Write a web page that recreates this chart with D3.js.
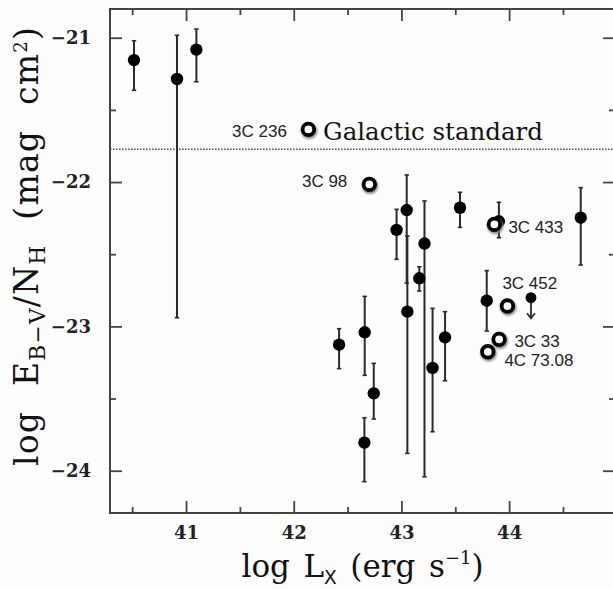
<!DOCTYPE html>
<html><head><meta charset="utf-8">
<script src="https://cdn.jsdelivr.net/npm/d3@7"></script>
<style>
html,body{margin:0;padding:0;background:#fff;}
svg{display:block;}
</style></head>
<body>
<svg id="chart" width="613" height="589"></svg>
<script>
// ---------------- data ----------------
// filled points with vertical error bars (log Lx, log E/NH, upper end, lower end)
const ptX  = [40.517, 40.916, 41.096, 42.955, 43.049, 43.055, 43.214, 43.166, 43.289, 43.405, 43.544, 42.421, 42.659, 42.743, 42.656, 43.905, 44.665, 43.792];
const ptY  = [-21.155,-21.286,-21.083,-22.332,-22.194,-22.898,-22.426,-22.667,-23.288,-23.076,-22.178,-23.127,-23.041,-23.464,-23.806,-22.272,-22.247,-22.822];
const ptHi = [-21.021,-20.983,-20.940,-22.189,-21.951,-22.374,-22.131,-22.587,-22.875,-22.898,-22.071,-23.016,-22.792,-23.256,-23.633,-22.140,-22.039,-22.614];
const ptLo = [-21.364,-22.940,-21.305,-22.535,-22.700,-23.880,-24.042,-22.755,-23.730,-23.377,-22.314,-23.293,-23.339,-23.642,-24.076,-22.386,-22.575,-23.032];

// named sources (open circles)
const srcNames = ["3C 236", "3C 98", "3C 433", "3C 452", "3C 33", "4C 73.08"];
const srcX = [42.136, 42.702, 43.863, 43.984, 43.907, 43.802];
const srcY = [-21.635, -22.016, -22.293, -22.859, -23.090, -23.176];

// upper limit
const limX = [44.203];
const limY = [-22.801];
const limTip = [-22.944];

// Galactic standard
const galacticValue = -21.773;
const galacticLabel = "Galactic standard";

// axes
const xMajor = [41, 42, 43, 44];
const xMinor = [40.5, 41.5, 42.5, 43.5, 44.5];
const yMajor = [-21, -22, -23, -24];
const yMinor = [-21.5, -22.5, -23.5];
const xDomain = [40.294, 44.983];
const yDomain = [-20.801, -24.293];

// ---------------- drawing ----------------
const svg = d3.select("#chart");
const L = 110, R = 615, T = 9, B = 513;
const x = d3.scaleLinear().domain(xDomain).range([L, R]);
const y = d3.scaleLinear().domain(yDomain).range([T, B]);
const ink = "#2a2a2a";
const axisInk = "#444";

svg.append("rect").attr("width",613).attr("height",589).attr("fill","#fdfdfd");

const defs = svg.append("defs");
const f = defs.append("filter").attr("id","sh").attr("x","-50%").attr("y","-50%").attr("width","200%").attr("height","200%");
f.append("feGaussianBlur").attr("stdDeviation",1.2);

function styleAxis(g){
  g.select(".domain").remove();
  g.selectAll(".tick line").attr("stroke", axisInk).attr("stroke-width", 1.8);
  g.attr("font-size", null).attr("font-family", null);
  g.selectAll("text").attr("fill","#222").style("font-family","'DejaVu Serif'").style("font-weight","bold").style("font-size","18px");
}
const fmt = d => d < 0 ? "\u2212" + Math.abs(d) : String(d);
svg.append("g").attr("transform",`translate(0,${B})`)
  .call(d3.axisBottom(x).tickValues(xMajor).tickSize(-12).tickSizeOuter(0).tickPadding(13).tickFormat(fmt)).call(styleAxis);
svg.append("g").attr("transform",`translate(0,${B})`)
  .call(d3.axisBottom(x).tickValues(xMinor).tickSize(-6).tickSizeOuter(0).tickFormat("")).call(styleAxis);
svg.append("g").attr("transform",`translate(0,${T})`)
  .call(d3.axisTop(x).tickValues(xMajor).tickSize(-12).tickSizeOuter(0).tickFormat("")).call(styleAxis);
svg.append("g").attr("transform",`translate(0,${T})`)
  .call(d3.axisTop(x).tickValues(xMinor).tickSize(-6).tickSizeOuter(0).tickFormat("")).call(styleAxis);
svg.append("g").attr("transform",`translate(${L},0)`)
  .call(d3.axisLeft(y).tickValues(yMajor).tickSize(-12).tickSizeOuter(0).tickPadding(19).tickFormat(fmt)).call(styleAxis);
svg.append("g").attr("transform",`translate(${L},0)`)
  .call(d3.axisLeft(y).tickValues(yMinor).tickSize(-6).tickSizeOuter(0).tickFormat("")).call(styleAxis);
svg.append("g").attr("transform",`translate(${R},0)`)
  .call(d3.axisRight(y).tickValues(yMajor).tickSize(-12).tickSizeOuter(0).tickFormat("")).call(styleAxis);
svg.append("g").attr("transform",`translate(${R},0)`)
  .call(d3.axisRight(y).tickValues(yMinor).tickSize(-6).tickSizeOuter(0).tickFormat("")).call(styleAxis);

svg.append("rect").attr("x",L).attr("y",T).attr("width",R-L).attr("height",B-T)
  .attr("fill","none").attr("stroke",axisInk).attr("stroke-width",2);

svg.append("line").attr("x1",L).attr("x2",R).attr("y1",y(galacticValue)).attr("y2",y(galacticValue))
  .attr("stroke","#555").attr("stroke-width",1.6).attr("stroke-dasharray","1.6,1.4");

const idx = d3.range(ptX.length);
const eb = svg.append("g");
eb.selectAll("line.bar").data(idx).join("line").attr("class","bar")
  .attr("x1",i=>x(ptX[i])).attr("x2",i=>x(ptX[i]))
  .attr("y1",i=>y(ptHi[i])).attr("y2",i=>y(ptLo[i]))
  .attr("stroke",ink).attr("stroke-width",2);
eb.selectAll("line.capH").data(idx).join("line").attr("class","capH")
  .attr("x1",i=>x(ptX[i])-2.2).attr("x2",i=>x(ptX[i])+2.2)
  .attr("y1",i=>y(ptHi[i])).attr("y2",i=>y(ptHi[i]))
  .attr("stroke",ink).attr("stroke-width",1.6);
eb.selectAll("line.capL").data(idx).join("line").attr("class","capL")
  .attr("x1",i=>x(ptX[i])-2.2).attr("x2",i=>x(ptX[i])+2.2)
  .attr("y1",i=>y(ptLo[i])).attr("y2",i=>y(ptLo[i]))
  .attr("stroke",ink).attr("stroke-width",1.6);
svg.append("g").selectAll("circle").data(idx).join("circle")
  .attr("cx",i=>x(ptX[i])).attr("cy",i=>y(ptY[i])).attr("r",6.2).attr("fill","#000");

const lim = svg.append("g");
limX.forEach((lx,i)=>{
  const cx = x(lx), cy = y(limY[i]), ty = y(limTip[i]);
  lim.append("line").attr("x1",cx).attr("x2",cx).attr("y1",cy).attr("y2",ty)
    .attr("stroke",ink).attr("stroke-width",1.8);
  lim.append("path").attr("d",`M${cx-4},${ty-5}L${cx},${ty}L${cx+4},${ty-5}`)
    .attr("fill","none").attr("stroke",ink).attr("stroke-width",1.8);
  lim.append("circle").attr("cx",cx).attr("cy",cy).attr("r",5.4).attr("fill","#000");
});

const sidx = d3.range(srcX.length);
const oc = svg.append("g");
oc.selectAll("circle.sh").data(sidx).join("circle").attr("class","sh")
  .attr("cx",i=>x(srcX[i])+0.8).attr("cy",i=>y(srcY[i])+1.6).attr("r",6)
  .attr("fill","none").attr("stroke","#888").attr("stroke-width",4.2).attr("filter","url(#sh)");
oc.selectAll("circle.o").data(sidx).join("circle").attr("class","o")
  .attr("cx",i=>x(srcX[i])).attr("cy",i=>y(srcY[i])).attr("r",5.8)
  .attr("fill","#fff").attr("stroke","#000").attr("stroke-width",3.8);

const labelLayout = {
  "3C 236":  {dx:-21.5, dy:7.7,  anchor:"end"},
  "3C 98":   {dx:-22,   dy:3,    anchor:"end"},
  "3C 433":  {dx:14,    dy:8.4,  anchor:"start"},
  "3C 452":  {dx:-5,    dy:-16.7,anchor:"start"},
  "3C 33":   {dx:15.3,  dy:7.4,  anchor:"start"},
  "4C 73.08":{dx:16.6,  dy:14,   anchor:"start"}
};
svg.append("g").selectAll("text").data(sidx).join("text")
  .attr("x",i=>x(srcX[i])+labelLayout[srcNames[i]].dx)
  .attr("y",i=>y(srcY[i])+labelLayout[srcNames[i]].dy)
  .attr("text-anchor",i=>labelLayout[srcNames[i]].anchor)
  .attr("font-family","Liberation Sans, Arial, sans-serif").attr("font-size",17).attr("fill","#222")
  .text(i=>srcNames[i]);

function fitText(sel, target){
  const n = sel.node();
  const fs = +sel.attr("font-size");
  const len = n.getComputedTextLength();
  sel.attr("font-size", fs*target/len);
}
function spaceText(sel, target, nchars, ls, nspaces){
  const len = sel.node().getComputedTextLength();
  if (len + ls*nchars > target) { fitText(sel, target); return; }
  sel.attr("letter-spacing", ls);
  sel.attr("word-spacing", (target-len-ls*nchars)/nspaces);
}
const gl = svg.append("text").attr("x", x(srcX[0]) + 14.7).attr("y", y(galacticValue) - 9.3)
  .attr("font-family","DejaVu Serif").attr("font-size",20).attr("fill","#111").text(galacticLabel);
fitText(gl, 220);

const xt = svg.append("text").attr("x",362.5).attr("y",577).attr("text-anchor","middle")
  .attr("font-family","DejaVu Serif").attr("font-size",31).attr("fill","#111");
xt.append("tspan").text("log L");
xt.append("tspan").attr("font-size","0.6em").attr("baseline-shift","-0.35em").attr("font-family","DejaVu Sans").text("X");
xt.append("tspan").text(" (erg s");
xt.append("tspan").attr("font-size","0.58em").attr("baseline-shift","0.7em").text("\u22121");
xt.append("tspan").text(")");
spaceText(xt, 242, 16, 0, 3);

const yt = svg.append("text").attr("transform","translate(38,246) rotate(-90)").attr("text-anchor","middle")
  .attr("font-family","DejaVu Serif").attr("font-size",33).attr("fill","#111");
yt.append("tspan").text("log E");
yt.append("tspan").attr("font-size","0.66em").attr("baseline-shift","-0.3em").text("B\u2212V");
yt.append("tspan").text("/N");
yt.append("tspan").attr("font-size","0.66em").attr("baseline-shift","-0.3em").text("H");
yt.append("tspan").text(" (mag cm");
yt.append("tspan").attr("font-size","0.55em").attr("baseline-shift","0.6em").text("2");
yt.append("tspan").text(")");
spaceText(yt, 440, 21, 1.2, 3);
</script>
</body></html>
